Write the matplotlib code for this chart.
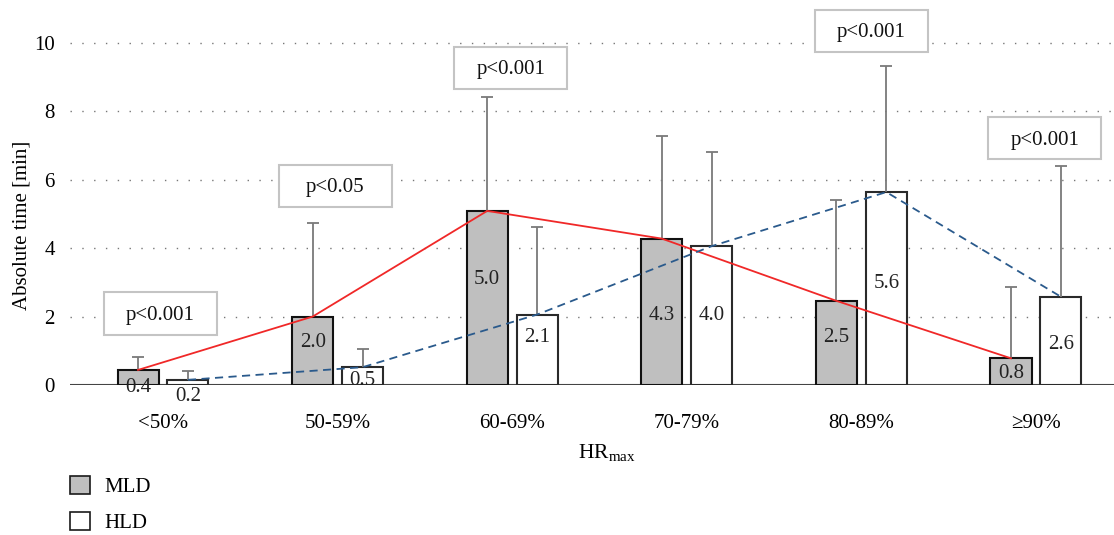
import numpy as np
import matplotlib
matplotlib.use('Agg')
import matplotlib.pyplot as plt
from matplotlib.patches import Patch, Rectangle

plt.rcParams['font.family'] = ['Liberation Serif', 'DejaVu Serif']
plt.rcParams['mathtext.fontset'] = 'custom'
plt.rcParams['mathtext.rm'] = 'Liberation Serif'

# Data
categories = ['<50%', '50-59%', '60-69%', '70-79%', '80-89%', '≥90%']
mld_mean = [0.44, 2.0, 5.09, 4.28, 2.46, 0.78]
hld_mean = [0.15, 0.52, 2.06, 4.06, 5.64, 2.58]
mld_upper = [0.81, 4.75, 8.43, 7.28, 5.40, 2.87]
hld_upper = [0.40, 1.05, 4.62, 6.81, 9.33, 6.39]
mld_labels = ['0.4', '2.0', '5.0', '4.3', '2.5', '0.8']
hld_labels = ['0.2', '0.5', '2.1', '4.0', '5.6', '2.6']
p_values = ['p<0.001', 'p<0.05', 'p<0.001', '', 'p<0.001', 'p<0.001']

# where the value labels and p-boxes sit (layout, not data)
mld_label_y = [-0.06, 1.23, 3.07, 2.02, 1.40, 0.35]
hld_label_y = [-0.35, 0.12, 1.40, 2.02, 2.98, 1.17]
pbox_x = [-0.014, 0.988, 1.993, None, 4.058, 5.05]
pbox_y = [2.09, 5.82, 9.27, None, 10.35, 7.21]

x = np.arange(len(categories))
off = 0.143
w = 0.235

fig = plt.figure(figsize=(11.14, 5.35), dpi=100)
ax = fig.add_axes([0.0628, 0.2804, 0.9372, 0.7032])
ax.set_xlim(-0.533, 5.447)
ax.set_ylim(0, 11)

for s in ax.spines.values():
    s.set_visible(False)

for yv in [2, 4, 6, 8, 10]:
    ax.axhline(yv, color='#777777', lw=1.0, ls=(0, (1, 7.5)), zorder=0)
ax.axhline(0, color='#444444', lw=1.5, zorder=1)

ax.bar(x - off, mld_mean, w, color='#bfbfbf', edgecolor='#111111', lw=1.5, zorder=2)
ax.bar(x + off, hld_mean, w, color='white', edgecolor='#2a2a2a', lw=1.5, zorder=2)

# upper error bars only
ecol = '#7a7a7a'
ax.vlines(x - off, mld_mean, mld_upper, color=ecol, lw=1.3, zorder=3)
ax.vlines(x + off, hld_mean, hld_upper, color=ecol, lw=1.3, zorder=3)
ax.plot(x - off, mld_upper, ls='none', marker='_', ms=8.5, mew=1.3, color=ecol, zorder=3)
ax.plot(x + off, hld_upper, ls='none', marker='_', ms=8.5, mew=1.3, color=ecol, zorder=3)

ax.plot(x - off, mld_mean, color='#f02828', lw=1.3, zorder=4)
ax.plot(x + off, hld_mean, color='#2a5a8c', lw=1.3, ls=(0, (4.5, 3)), zorder=4)

for i in range(len(categories)):
    ax.text(x[i] - off, mld_label_y[i], mld_labels[i], ha='center', va='center',
            fontsize=15, color='#222222', zorder=5)
    ax.text(x[i] + off, hld_label_y[i], hld_labels[i], ha='center', va='center',
            fontsize=15, color='#222222', zorder=5, clip_on=False)
    if p_values[i]:
        bw, bh = 0.647, 1.23
        ax.add_patch(Rectangle((pbox_x[i] - bw / 2, pbox_y[i] - bh / 2), bw, bh,
                               facecolor='white', edgecolor='#c4c4c4', lw=1.5,
                               zorder=6, clip_on=False))
        ax.text(pbox_x[i], pbox_y[i] - 0.05, p_values[i], ha='center', va='center',
                fontsize=15, color='#111111', zorder=7, clip_on=False)

ax.set_xticks(x)
ax.set_xticklabels(categories, fontsize=15)
ax.set_yticks([0, 2, 4, 6, 8, 10])
ax.set_yticklabels(['0', '2', '4', '6', '8', '10'], fontsize=15)
ax.tick_params(axis='x', length=0, pad=21)
ax.tick_params(axis='y', length=0, pad=11)
ax.set_ylabel('Absolute time [min]', fontsize=15)
ax.yaxis.set_label_coords(-0.037, 0.423)
ax.text(2.54, -0.18, 'HR$_{\\mathrm{max}}$', transform=ax.get_xaxis_transform(),
        ha='center', va='center', fontsize=15.5)

handles = [Patch(facecolor='#bfbfbf', edgecolor='#1a1a1a', lw=1.2, label='MLD'),
           Patch(facecolor='white', edgecolor='#1a1a1a', lw=1.2, label='HLD')]
fig.legend(handles=handles, loc='upper left', bbox_to_anchor=(0.063, 0.11),
           frameon=False, fontsize=15, handlelength=0.95, handleheight=0.95,
           labelspacing=0.7, borderpad=0, borderaxespad=0, handletextpad=0.7)

fig.savefig('out.png', dpi=100)
